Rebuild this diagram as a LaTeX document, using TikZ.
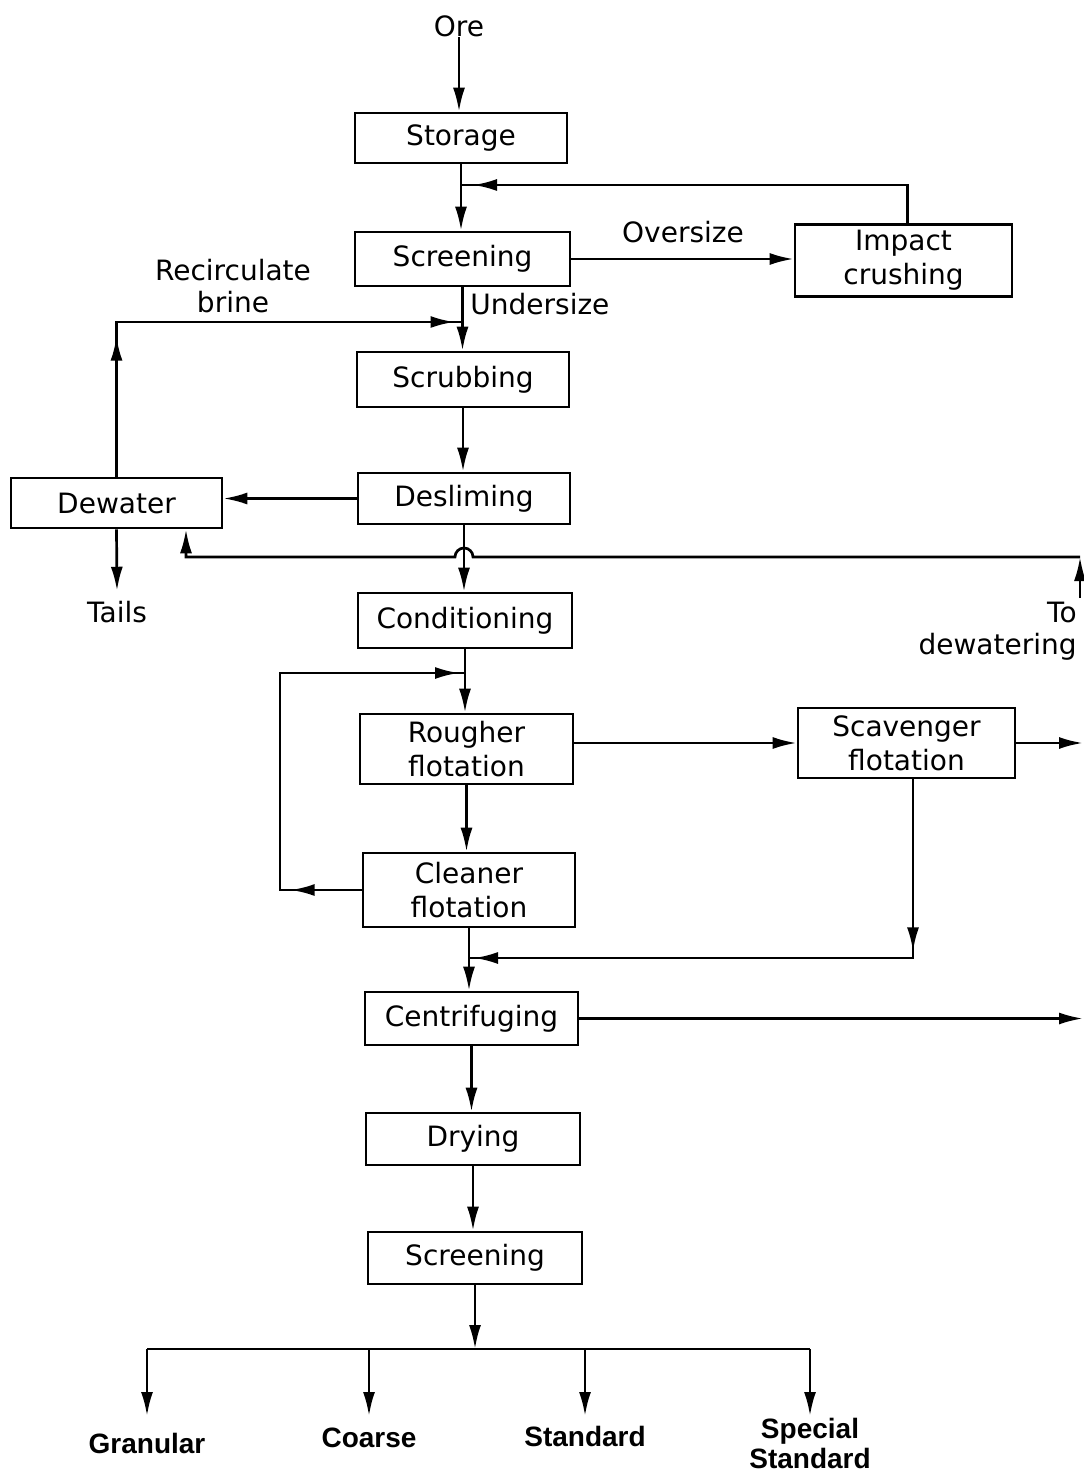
\documentclass[tikz,border=0pt]{standalone}
\usepackage{fontspec}
\setmainfont{DejaVu Sans}
\newfontfamily\prodfont{Liberation Sans}
\usetikzlibrary{arrows.meta,decorations.markings,calc}
\begin{document}
\begin{tikzpicture}[x=0.5pt,y=-0.5pt,
  box/.style={draw,line width=1.35pt,inner sep=0pt,align=center,font=\fontsize{14pt}{17pt}\selectfont},
  lbl/.style={inner sep=0pt,align=center,font=\fontsize{14pt}{16pt}\selectfont},
  prod/.style={inner sep=0pt,align=center,font=\prodfont\bfseries\fontsize{14pt}{15pt}\selectfont},
  ln/.style={line width=1.35pt},
  arr/.style={ln,-{Latex[length=12pt,width=6pt]}},
  tipat/.style={postaction={decorate,decoration={markings,mark=at position #1 with {\arrow{Latex[length=12pt,width=6pt]}}}}}]
\useasboundingbox (0,0) rectangle (1083,1475);

% nodes
\node[lbl] (ore) at (459,26) {Ore};
\node[box,minimum width=106pt,minimum height=25pt] (storage) at (461,138) {Storage};
\node[box,minimum width=107.5pt,minimum height=27pt] (screen1) at (462.5,259) {Screening};
\node[box,minimum width=108.5pt,minimum height=36pt] (impact) at (903.5,260.5) {Impact\\crushing};
\node[box,minimum width=106pt,minimum height=27.5pt] (scrub) at (463,379.5) {Scrubbing};
\node[box,minimum width=106pt,minimum height=25.5pt] (deslime) at (464,498.5) {Desliming};
\node[box,minimum width=105.5pt,minimum height=25pt] (dewater) at (116.5,503) {Dewater};
\node[box,minimum width=107pt,minimum height=27.5pt] (cond) at (465,620.5) {Conditioning};
\node[box,minimum width=106.5pt,minimum height=35pt] (rougher) at (466.5,749) {Rougher\\flotation};
\node[box,minimum width=108.5pt,minimum height=35pt] (scav) at (906.5,743) {Scavenger\\flotation};
\node[box,minimum width=106pt,minimum height=37pt] (cleaner) at (469,890) {Cleaner\\flotation};
\node[box,minimum width=106.5pt,minimum height=26.5pt] (centri) at (471.5,1018.5) {Centrifuging};
\node[box,minimum width=107pt,minimum height=26pt] (drying) at (473,1139) {Drying};
\node[box,minimum width=107pt,minimum height=26pt] (screen2) at (475,1258) {Screening};

\node[lbl] (oversize) at (683,232) {Oversize};
\node[lbl,anchor=west] (undersize) at (470,304) {Undersize};
\node[lbl] (recirc) at (233,286) {Recirculate\\brine};
\node[lbl] (tails) at (117,612) {Tails};
\node[lbl,align=right,anchor=north east] (todew) at (1077,602) {To\\dewatering};

\node[prod] (gran) at (147,1443) {Granular};
\node[prod] (coarse) at (369,1438) {Coarse};
\node[prod] (stand) at (585,1436) {Standard};
\node[prod] (special) at (810,1443) {Special\\Standard};

% coordinates
\coordinate (j1) at (461,185);
\coordinate (j2) at (462.5,322);
\coordinate (rt) at (1080,557);
\coordinate (rb) at (1080,598);
\coordinate (dwin) at (186,557);
\coordinate (j3) at (465,673);
\coordinate (cu) at (280,673);
\coordinate (cl) at (280,890);
\coordinate (sr) at (1083,743);
\coordinate (sd) at (913,958);
\coordinate (j4) at (470,958);
\coordinate (j5) at (475,1349);
\coordinate (tipy) at (0,1416);

% connectors
\draw[arr] (ore.south) -- (ore.south |- storage.north);
\draw[arr] (storage.south) -- (storage.south |- screen1.north);
\draw[ln,tipat=-6pt] ([xshift=2pt]impact.north) -- ([xshift=2pt]impact.north |- j1) -- (j1);
\draw[arr] (screen1.east) -- (screen1.east -| impact.west);
\draw[arr] (screen1.south) -- (screen1.south |- scrub.north);
\draw[ln,tipat=70pt,tipat=-4pt] (dewater.north) -- (dewater.north |- j2) -- (j2);
\draw[arr] (scrub.south) -- (scrub.south |- deslime.north);
\draw[arr] (deslime.west) -- (deslime.west -| dewater.east);
\draw[arr] (dewater.south) -- ([yshift=5pt]tails.north);
\draw[arr] (deslime.south) -- (deslime.south |- cond.north);
\draw[arr] (rb) -- (rt);
\draw[arr] (rt) -- ($(deslime.south |- rt)+(9,0)$) arc[start angle=0,end angle=180,radius=4.5pt] -- (dwin) -- (dwin |- dewater.south);
\draw[arr] (cond.south) -- (cond.south |- rougher.north);
\draw[ln,tipat=35.5pt,tipat=-3pt] (cleaner.west) -- (cl) -- (cu) -- (j3);
\draw[arr] (rougher.east |- scav.west) -- (scav.west);
\draw[arr] (scav.east) -- (sr);
\draw[arr] (rougher.south) -- (rougher.south |- cleaner.north);
\draw[ln,tipat=86pt,tipat=-2pt] (sd |- scav.south) -- (sd) -- (j4);
\draw[arr] (cleaner.south) -- (cleaner.south |- centri.north);
\draw[arr] (centri.east) -- (centri.east -| sr);
\draw[arr] (centri.south) -- (centri.south |- drying.north);
\draw[arr] (drying.south) -- (drying.south |- screen2.north);
\draw[arr] (screen2.south) -- (j5);
\draw[ln] (gran.north |- j5) -- (special.north |- j5);
\draw[arr] (gran.north |- j5) -- (gran.north |- tipy);
\draw[arr] (coarse.north |- j5) -- (coarse.north |- tipy);
\draw[arr] (stand.north |- j5) -- (stand.north |- tipy);
\draw[arr] (special.north |- j5) -- (special.north |- tipy);
\end{tikzpicture}
\end{document}
